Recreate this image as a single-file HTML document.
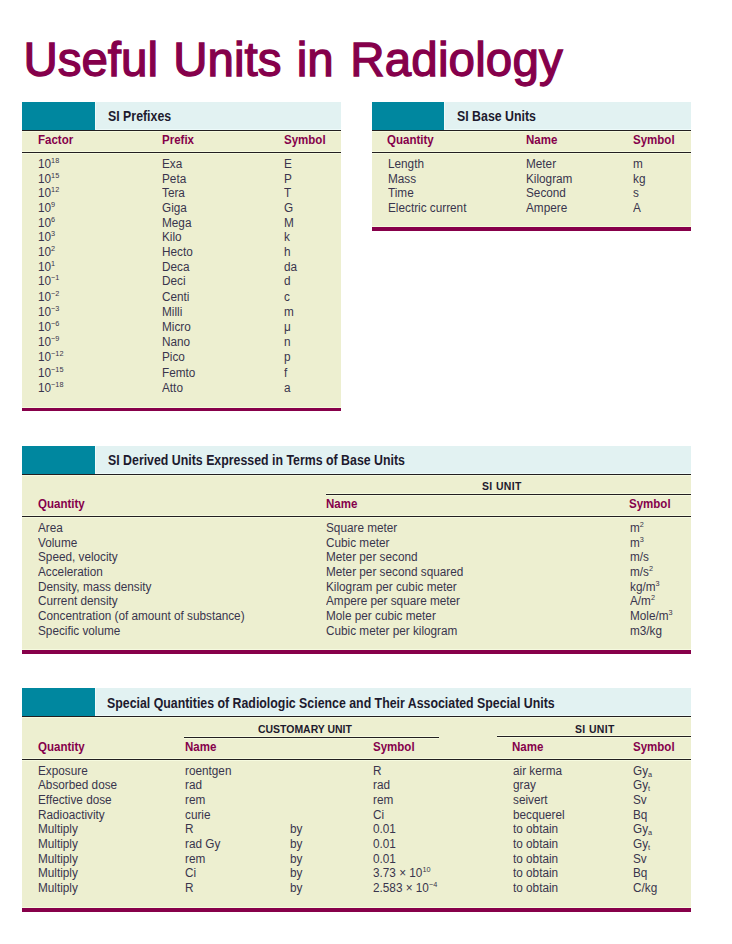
<!DOCTYPE html>
<html><head><meta charset="utf-8"><title>Useful Units in Radiology</title>
<style>
html,body{margin:0;padding:0;background:#fff;}
body{width:732px;height:944px;position:relative;overflow:hidden;font-family:"Liberation Sans",sans-serif;}
body>div{position:absolute;white-space:nowrap;line-height:1;transform-origin:0 0;}
body>i{position:absolute;display:block;}
.t{font-size:47.5px;font-weight:normal;color:#85004b;-webkit-text-stroke:1.3px #85004b;letter-spacing:0px;word-spacing:2px;}
.h{font-size:13.8px;font-weight:bold;color:#1d1a2e;transform:scaleX(0.895);}
.c{font-size:12px;font-weight:bold;color:#85004b;transform:scaleX(0.96);}
.s{font-size:11px;font-weight:bold;color:#1d1a2e;transform:scaleX(0.95);}
.b{font-size:12px;font-weight:normal;color:#39354d;transform:scaleX(0.98);}
.sp{font-size:0.62em;position:relative;top:-0.72em;}
.sb{font-size:0.62em;position:relative;top:0.25em;}
</style></head><body>
<div class="t" style="left:23.4px;top:36px">Useful Units in <span style="letter-spacing:0.15px;margin-left:1.5px">Radiology</span></div>
<i style="left:22px;top:102px;width:319px;height:306px;background:#edefd0"></i>
<i style="left:22px;top:102px;width:73px;height:28px;background:#00879f"></i>
<i style="left:95px;top:102px;width:246px;height:28px;background:#e2f2f2"></i>
<i style="left:95px;top:129px;width:246px;height:1px;background:#edfafa"></i>
<i style="left:95px;top:102px;width:1px;height:27px;background:#edfafa"></i>
<i style="left:22px;top:131px;width:319px;height:1px;background:#f6fadf"></i>
<i style="left:22px;top:130px;width:319px;height:1px;background:#231f20"></i>
<i style="left:22px;top:151px;width:319px;height:1px;background:#f6fadf"></i>
<i style="left:22px;top:153px;width:319px;height:1px;background:#f6fadf"></i>
<i style="left:22px;top:152px;width:319px;height:1px;background:#231f20"></i>
<i style="left:22px;top:407px;width:319px;height:1px;background:#f6fadf"></i>
<i style="left:22px;top:408px;width:319px;height:3px;background:#87004a"></i>
<div class="h" style="left:107.7px;top:110px">SI Prefixes</div>
<div class="c" style="left:38.2px;top:134px">Factor</div>
<div class="c" style="left:161.9px;top:134px">Prefix</div>
<div class="c" style="left:284.3px;top:134px">Symbol</div>
<div class="b" style="left:38.2px;top:158px">10<span class="sp">18</span></div>
<div class="b" style="left:162.0px;top:158px">Exa</div>
<div class="b" style="left:284.3px;top:158px">E</div>
<div class="b" style="left:38.2px;top:173px">10<span class="sp">15</span></div>
<div class="b" style="left:162.0px;top:173px">Peta</div>
<div class="b" style="left:284.3px;top:173px">P</div>
<div class="b" style="left:38.2px;top:187px">10<span class="sp">12</span></div>
<div class="b" style="left:162.0px;top:187px">Tera</div>
<div class="b" style="left:284.3px;top:187px">T</div>
<div class="b" style="left:38.2px;top:202px">10<span class="sp">9</span></div>
<div class="b" style="left:162.0px;top:202px">Giga</div>
<div class="b" style="left:284.3px;top:202px">G</div>
<div class="b" style="left:38.2px;top:217px">10<span class="sp">6</span></div>
<div class="b" style="left:162.0px;top:217px">Mega</div>
<div class="b" style="left:284.3px;top:217px">M</div>
<div class="b" style="left:38.2px;top:231px">10<span class="sp">3</span></div>
<div class="b" style="left:162.0px;top:231px">Kilo</div>
<div class="b" style="left:284.3px;top:231px">k</div>
<div class="b" style="left:38.2px;top:246px">10<span class="sp">2</span></div>
<div class="b" style="left:162.0px;top:246px">Hecto</div>
<div class="b" style="left:284.3px;top:246px">h</div>
<div class="b" style="left:38.2px;top:261px">10<span class="sp">1</span></div>
<div class="b" style="left:162.0px;top:261px">Deca</div>
<div class="b" style="left:284.3px;top:261px">da</div>
<div class="b" style="left:38.2px;top:275px">10<span class="sp">&minus;1</span></div>
<div class="b" style="left:162.0px;top:275px">Deci</div>
<div class="b" style="left:284.3px;top:275px">d</div>
<div class="b" style="left:38.2px;top:291px">10<span class="sp">&minus;2</span></div>
<div class="b" style="left:162.0px;top:291px">Centi</div>
<div class="b" style="left:284.3px;top:291px">c</div>
<div class="b" style="left:38.2px;top:306px">10<span class="sp">&minus;3</span></div>
<div class="b" style="left:162.0px;top:306px">Milli</div>
<div class="b" style="left:284.3px;top:306px">m</div>
<div class="b" style="left:38.2px;top:321px">10<span class="sp">&minus;6</span></div>
<div class="b" style="left:162.0px;top:321px">Micro</div>
<div class="b" style="left:284.3px;top:321px">&mu;</div>
<div class="b" style="left:38.2px;top:336px">10<span class="sp">&minus;9</span></div>
<div class="b" style="left:162.0px;top:336px">Nano</div>
<div class="b" style="left:284.3px;top:336px">n</div>
<div class="b" style="left:38.2px;top:351px">10<span class="sp">&minus;12</span></div>
<div class="b" style="left:162.0px;top:351px">Pico</div>
<div class="b" style="left:284.3px;top:351px">p</div>
<div class="b" style="left:38.2px;top:367px">10<span class="sp">&minus;15</span></div>
<div class="b" style="left:162.0px;top:367px">Femto</div>
<div class="b" style="left:284.3px;top:367px">f</div>
<div class="b" style="left:38.2px;top:382px">10<span class="sp">&minus;18</span></div>
<div class="b" style="left:162.0px;top:382px">Atto</div>
<div class="b" style="left:284.3px;top:382px">a</div>
<i style="left:372px;top:102px;width:319px;height:125px;background:#edefd0"></i>
<i style="left:372px;top:102px;width:72px;height:28px;background:#00879f"></i>
<i style="left:444px;top:102px;width:247px;height:28px;background:#e2f2f2"></i>
<i style="left:444px;top:129px;width:247px;height:1px;background:#edfafa"></i>
<i style="left:444px;top:102px;width:1px;height:27px;background:#edfafa"></i>
<i style="left:372px;top:131px;width:319px;height:1px;background:#f6fadf"></i>
<i style="left:372px;top:130px;width:319px;height:1px;background:#231f20"></i>
<i style="left:372px;top:151px;width:319px;height:1px;background:#f6fadf"></i>
<i style="left:372px;top:153px;width:319px;height:1px;background:#f6fadf"></i>
<i style="left:372px;top:152px;width:319px;height:1px;background:#231f20"></i>
<i style="left:372px;top:226px;width:319px;height:1px;background:#f6fadf"></i>
<i style="left:372px;top:227px;width:319px;height:4px;background:#87004a"></i>
<div class="h" style="left:457.1px;top:110px">SI Base Units</div>
<div class="c" style="left:387.3px;top:134px">Quantity</div>
<div class="c" style="left:526.1px;top:134px">Name</div>
<div class="c" style="left:633.1px;top:134px">Symbol</div>
<div class="b" style="left:387.9px;top:158px">Length</div>
<div class="b" style="left:526.2px;top:158px">Meter</div>
<div class="b" style="left:633.2px;top:158px">m</div>
<div class="b" style="left:387.9px;top:173px">Mass</div>
<div class="b" style="left:526.2px;top:173px">Kilogram</div>
<div class="b" style="left:633.2px;top:173px">kg</div>
<div class="b" style="left:387.9px;top:187px">Time</div>
<div class="b" style="left:526.2px;top:187px">Second</div>
<div class="b" style="left:633.2px;top:187px">s</div>
<div class="b" style="left:387.9px;top:202px">Electric current</div>
<div class="b" style="left:526.2px;top:202px">Ampere</div>
<div class="b" style="left:633.2px;top:202px">A</div>
<i style="left:22px;top:446px;width:669px;height:204px;background:#edefd0"></i>
<i style="left:22px;top:446px;width:73px;height:28px;background:#00879f"></i>
<i style="left:95px;top:446px;width:596px;height:28px;background:#e2f2f2"></i>
<i style="left:95px;top:473px;width:596px;height:1px;background:#edfafa"></i>
<i style="left:95px;top:446px;width:1px;height:27px;background:#edfafa"></i>
<i style="left:22px;top:475px;width:669px;height:1px;background:#f6fadf"></i>
<i style="left:22px;top:474px;width:669px;height:1px;background:#231f20"></i>
<i style="left:22px;top:515px;width:669px;height:1px;background:#f6fadf"></i>
<i style="left:22px;top:517px;width:669px;height:1px;background:#f6fadf"></i>
<i style="left:22px;top:516px;width:669px;height:1px;background:#231f20"></i>
<i style="left:22px;top:649px;width:669px;height:1px;background:#f6fadf"></i>
<i style="left:22px;top:650px;width:669px;height:4px;background:#87004a"></i>
<div class="h" style="left:107.8px;top:454px">SI Derived Units Expressed in Terms of Base Units</div>
<div class="s" style="left:482.1px;top:481px"><span style="letter-spacing:0.4px">SI UNIT</span></div>
<i style="left:326px;top:493px;width:365px;height:1px;background:#f6fadf"></i>
<i style="left:326px;top:495px;width:365px;height:1px;background:#f6fadf"></i>
<i style="left:326px;top:494px;width:365px;height:1px;background:#231f20"></i>
<div class="c" style="left:38.1px;top:498px">Quantity</div>
<div class="c" style="left:326.3px;top:498px">Name</div>
<div class="c" style="left:629.1px;top:498px">Symbol</div>
<div class="b" style="left:38.0px;top:522px">Area</div>
<div class="b" style="left:325.9px;top:522px">Square meter</div>
<div class="b" style="left:629.7px;top:522px">m<span class="sp">2</span></div>
<div class="b" style="left:38.0px;top:537px">Volume</div>
<div class="b" style="left:325.9px;top:537px">Cubic meter</div>
<div class="b" style="left:629.7px;top:537px">m<span class="sp">3</span></div>
<div class="b" style="left:38.0px;top:551px">Speed, velocity</div>
<div class="b" style="left:325.9px;top:551px">Meter per second</div>
<div class="b" style="left:629.7px;top:551px">m/s</div>
<div class="b" style="left:38.0px;top:566px">Acceleration</div>
<div class="b" style="left:325.9px;top:566px">Meter per second squared</div>
<div class="b" style="left:629.7px;top:566px">m/s<span class="sp">2</span></div>
<div class="b" style="left:38.0px;top:581px">Density, mass density</div>
<div class="b" style="left:325.9px;top:581px">Kilogram per cubic meter</div>
<div class="b" style="left:629.7px;top:581px">kg/m<span class="sp">3</span></div>
<div class="b" style="left:38.0px;top:595px">Current density</div>
<div class="b" style="left:325.9px;top:595px">Ampere per square meter</div>
<div class="b" style="left:629.7px;top:595px">A/m<span class="sp">2</span></div>
<div class="b" style="left:38.0px;top:610px">Concentration (of amount of substance)</div>
<div class="b" style="left:325.9px;top:610px">Mole per cubic meter</div>
<div class="b" style="left:629.7px;top:610px">Mole/m<span class="sp">3</span></div>
<div class="b" style="left:38.0px;top:625px">Specific volume</div>
<div class="b" style="left:325.9px;top:625px">Cubic meter per kilogram</div>
<div class="b" style="left:629.7px;top:625px">m3/kg</div>
<i style="left:22px;top:688px;width:669px;height:220px;background:#edefd0"></i>
<i style="left:22px;top:688px;width:73px;height:28px;background:#00879f"></i>
<i style="left:95px;top:688px;width:596px;height:28px;background:#e2f2f2"></i>
<i style="left:95px;top:715px;width:596px;height:1px;background:#edfafa"></i>
<i style="left:95px;top:688px;width:1px;height:27px;background:#edfafa"></i>
<i style="left:22px;top:717px;width:669px;height:1px;background:#f6fadf"></i>
<i style="left:22px;top:716px;width:669px;height:1px;background:#231f20"></i>
<i style="left:22px;top:758px;width:669px;height:1px;background:#f6fadf"></i>
<i style="left:22px;top:760px;width:669px;height:1px;background:#f6fadf"></i>
<i style="left:22px;top:759px;width:669px;height:1px;background:#231f20"></i>
<i style="left:22px;top:907px;width:669px;height:1px;background:#f6fadf"></i>
<i style="left:22px;top:908px;width:669px;height:4px;background:#87004a"></i>
<div class="h" style="left:107.3px;top:697px">Special Quantities of Radiologic Science and Their Associated Special Units</div>
<div class="s" style="left:257.7px;top:724px">CUSTOMARY UNIT</div>
<i style="left:184px;top:736px;width:255px;height:1px;background:#f6fadf"></i>
<i style="left:184px;top:738px;width:255px;height:1px;background:#f6fadf"></i>
<i style="left:184px;top:737px;width:255px;height:1px;background:#231f20"></i>
<div class="s" style="left:575.3px;top:724px"><span style="letter-spacing:0.4px">SI UNIT</span></div>
<i style="left:497px;top:735px;width:194px;height:1px;background:#f6fadf"></i>
<i style="left:497px;top:737px;width:194px;height:1px;background:#f6fadf"></i>
<i style="left:497px;top:736px;width:194px;height:1px;background:#231f20"></i>
<div class="c" style="left:38.3px;top:741px">Quantity</div>
<div class="c" style="left:185.0px;top:741px">Name</div>
<div class="c" style="left:372.8px;top:741px">Symbol</div>
<div class="c" style="left:512.2px;top:741px">Name</div>
<div class="c" style="left:633.0px;top:741px">Symbol</div>
<div class="b" style="left:37.8px;top:765px">Exposure</div>
<div class="b" style="left:184.8px;top:765px">roentgen</div>
<div class="b" style="left:372.7px;top:765px">R</div>
<div class="b" style="left:512.5px;top:765px">air kerma</div>
<div class="b" style="left:633.2px;top:765px">Gy<span class="sb">a</span></div>
<div class="b" style="left:37.8px;top:779px">Absorbed dose</div>
<div class="b" style="left:184.8px;top:779px">rad</div>
<div class="b" style="left:372.7px;top:779px">rad</div>
<div class="b" style="left:512.5px;top:779px">gray</div>
<div class="b" style="left:633.2px;top:779px">Gy<span class="sb">t</span></div>
<div class="b" style="left:37.8px;top:794px">Effective dose</div>
<div class="b" style="left:184.8px;top:794px">rem</div>
<div class="b" style="left:372.7px;top:794px">rem</div>
<div class="b" style="left:512.5px;top:794px">seivert</div>
<div class="b" style="left:633.2px;top:794px">Sv</div>
<div class="b" style="left:37.8px;top:809px">Radioactivity</div>
<div class="b" style="left:184.8px;top:809px">curie</div>
<div class="b" style="left:372.7px;top:809px">Ci</div>
<div class="b" style="left:512.5px;top:809px">becquerel</div>
<div class="b" style="left:633.2px;top:809px">Bq</div>
<div class="b" style="left:37.8px;top:823px">Multiply</div>
<div class="b" style="left:184.8px;top:823px">R</div>
<div class="b" style="left:289.8px;top:823px">by</div>
<div class="b" style="left:372.7px;top:823px">0.01</div>
<div class="b" style="left:512.5px;top:823px">to obtain</div>
<div class="b" style="left:633.2px;top:823px">Gy<span class="sb">a</span></div>
<div class="b" style="left:37.8px;top:838px">Multiply</div>
<div class="b" style="left:184.8px;top:838px">rad Gy</div>
<div class="b" style="left:289.8px;top:838px">by</div>
<div class="b" style="left:372.7px;top:838px">0.01</div>
<div class="b" style="left:512.5px;top:838px">to obtain</div>
<div class="b" style="left:633.2px;top:838px">Gy<span class="sb">t</span></div>
<div class="b" style="left:37.8px;top:853px">Multiply</div>
<div class="b" style="left:184.8px;top:853px">rem</div>
<div class="b" style="left:289.8px;top:853px">by</div>
<div class="b" style="left:372.7px;top:853px">0.01</div>
<div class="b" style="left:512.5px;top:853px">to obtain</div>
<div class="b" style="left:633.2px;top:853px">Sv</div>
<div class="b" style="left:37.8px;top:867px">Multiply</div>
<div class="b" style="left:184.8px;top:867px">Ci</div>
<div class="b" style="left:289.8px;top:867px">by</div>
<div class="b" style="left:372.7px;top:867px">3.73 &times; 10<span class="sp">10</span></div>
<div class="b" style="left:512.5px;top:867px">to obtain</div>
<div class="b" style="left:633.2px;top:867px">Bq</div>
<div class="b" style="left:37.8px;top:882px">Multiply</div>
<div class="b" style="left:184.8px;top:882px">R</div>
<div class="b" style="left:289.8px;top:882px">by</div>
<div class="b" style="left:372.7px;top:882px">2.583 &times; 10<span class="sp">&minus;4</span></div>
<div class="b" style="left:512.5px;top:882px">to obtain</div>
<div class="b" style="left:633.2px;top:882px">C/kg</div>
</body></html>
